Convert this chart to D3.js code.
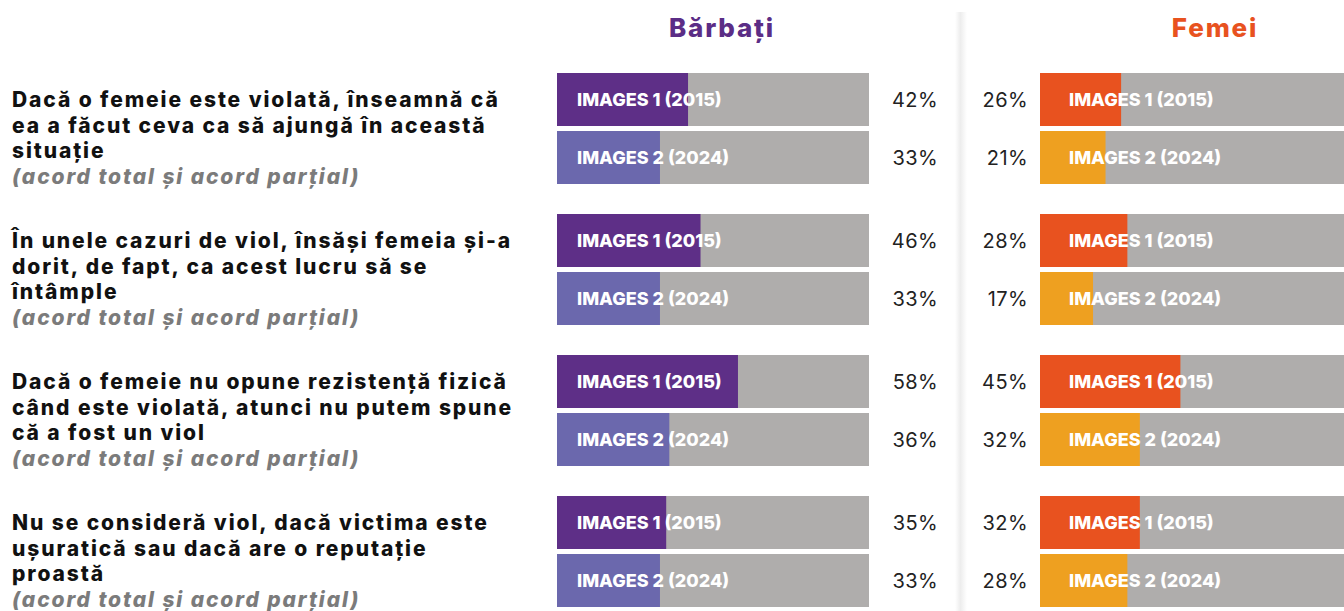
<!DOCTYPE html>
<html><head><meta charset="utf-8">
<script src="https://cdn.jsdelivr.net/npm/d3@7"></script>
<style>body{margin:0;background:#fff}svg{display:block}</style>
</head><body>
<script>
const questions = ["q1","q2","q3","q4"];
const questionLines = [
  ["Dacă o femeie este violată, înseamnă că","ea a făcut ceva ca să ajungă în această","situație"],
  ["În unele cazuri de viol, însăși femeia și-a","dorit, de fapt, ca acest lucru să se","întâmple"],
  ["Dacă o femeie nu opune rezistență fizică","când este violată, atunci nu putem spune","că a fost un viol"],
  ["Nu se consideră viol, dacă victima este","ușuratică sau dacă are o reputație","proastă"]
];
const subLabel = "(acord total și acord parțial)";
const waves = ["2015","2024"];
const waveLabels = ["IMAGES 1 (2015)","IMAGES 2 (2024)"];
const men2015 = [42,46,58,35];
const men2024 = [33,33,36,33];
const women2015 = [26,28,45,32];
const women2024 = [21,17,32,28];
const panelTitles = ["Bărbați","Femei"];

const W=1344,H=611;
const FONT="Inter, 'Open Sans', sans-serif";
const svg=d3.select("body").append("svg").attr("width",W).attr("height",H);

const defs=svg.append("defs");
const g=defs.append("linearGradient").attr("id","shade").attr("x1","0").attr("x2","1");
g.append("stop").attr("offset","0").attr("stop-color","#ffffff");
g.append("stop").attr("offset","0.45").attr("stop-color","#ededed");
g.append("stop").attr("offset","1").attr("stop-color","#ffffff");
svg.append("rect").attr("x",955).attr("y",12).attr("width",12).attr("height",H-12).attr("fill","url(#shade)");

const y=d3.scaleBand().domain(questions).range([73,607]).paddingInner(30/141).paddingOuter(0);
const yi=d3.scaleBand().domain(waves).range([0,y.bandwidth()]).paddingInner(5/58).paddingOuter(0);
const x=d3.scaleLinear().domain([0,100]).range([0,312]);

const panels=[
  {x0:557,title:panelTitles[0],titleColor:"#5b2d86",titleX:722,cols:["#5e2f87","#6b68ad"],vals:[men2015,men2024],pctX:938,labelX:577},
  {x0:1040,title:panelTitles[1],titleColor:"#e8521f",titleX:1215,cols:["#e8521f","#eea020"],vals:[women2015,women2024],pctX:1028,labelX:1069}
];

panels.forEach(p=>{
  svg.append("text").attr("x",p.titleX).attr("y",37).attr("text-anchor","middle")
    .attr("font-family",FONT).attr("font-weight",800).attr("font-size",26).attr("letter-spacing",1.8)
    .attr("fill",p.titleColor).text(p.title);
  const gp=svg.append("g").attr("transform",`translate(${p.x0},0)`);
  questions.forEach((q,qi)=>{
    waves.forEach((w,wi)=>{
      const top=y(q)+yi(w), h=yi.bandwidth(), v=p.vals[wi][qi];
      gp.append("rect").attr("x",x(0)).attr("y",top).attr("width",x(100)).attr("height",h).attr("fill","#afadac");
      gp.append("rect").attr("x",x(0)).attr("y",top).attr("width",x(v)).attr("height",h).attr("fill",p.cols[wi]);
      svg.append("text").attr("x",p.labelX).attr("y",top+h/2).attr("dy","0.36em")
        .attr("font-family",FONT).attr("font-weight",800).attr("font-size",18)
        .attr("fill","#fff").text(waveLabels[wi]);
      svg.append("text").attr("x",p.pctX).attr("y",top+h/2).attr("dy","0.37em").attr("text-anchor","end")
        .attr("font-family",FONT).attr("font-weight",400).attr("font-size",20).attr("letter-spacing",0.4)
        .attr("fill","#222").text(v+"%");
    });
  });
});

questions.forEach((q,qi)=>{
  const base=y(q)+34;
  questionLines[qi].forEach((ln,li)=>{
    svg.append("text").attr("x",12).attr("y",base+li*25.5)
      .attr("font-family",FONT).attr("font-size",21).attr("letter-spacing",1.9)
      .attr("font-weight",800).attr("fill","#111").text(ln);
  });
  svg.append("text").attr("x",12).attr("y",base+3*25.5)
    .attr("font-family",FONT).attr("font-size",21).attr("letter-spacing",1.9)
    .attr("font-weight",800).attr("font-style","italic").attr("fill","#7b7b7b").text(subLabel);
});
</script>
</body></html>
